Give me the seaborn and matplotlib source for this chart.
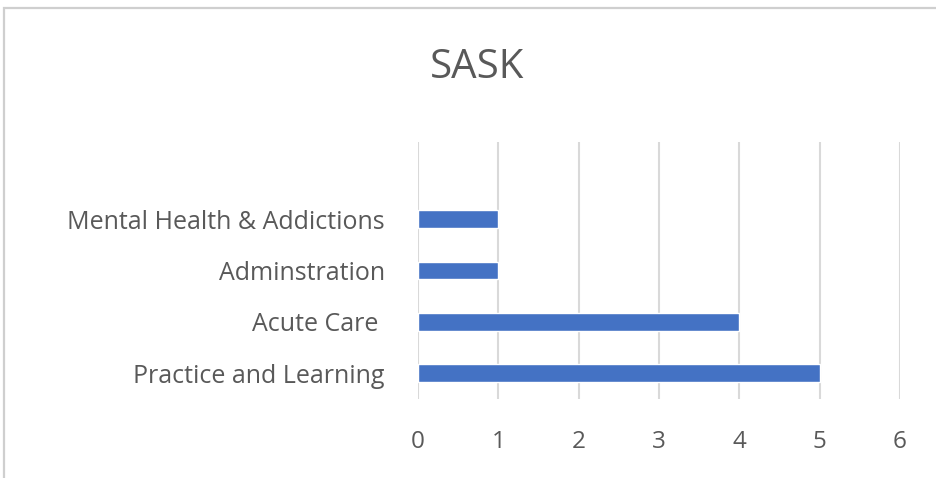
import matplotlib
matplotlib.use("Agg")
import matplotlib.pyplot as plt
import seaborn as sns
import pandas as pd
from matplotlib.patches import Rectangle

categories = ["Mental Health & Addictions", "Adminstration", "Acute Care ", "Practice and Learning"]
values = [1, 1, 4, 5]
x_ticks = [0, 1, 2, 3, 4, 5, 6]
title = "SASK"

sns.set_theme(style="white")
plt.rcParams["font.family"] = ["Open Sans", "DejaVu Sans"]

W, H = 936, 478
fig = plt.figure(figsize=(W / 100, H / 100), dpi=100)
fig.patch.set_facecolor("white")

# chart border
fig.add_artist(Rectangle((4 / W, -0.05), 1.2, 1 - 8 / H + 0.05, transform=fig.transFigure,
                         fill=False, edgecolor="#cfcfcf", linewidth=1.6))

ax = fig.add_axes([418 / W, 1 - 399 / H, 482 / W, 257 / H])
df = pd.DataFrame({"cat": categories, "val": values})
sns.barplot(data=df, x="val", y="cat", orient="h", color="#4472C4", width=0.35,
            saturation=1, ax=ax, zorder=3)

ax.set_xlim(0, 6)
ax.set_ylim(3.5, -1.5)
ax.set_xticks(x_ticks)
ax.set_xticklabels([str(t) for t in x_ticks])
ax.xaxis.grid(True, color="#d9d9d9", linewidth=1.5, zorder=0)
ax.yaxis.grid(False)
for s in ax.spines.values():
    s.set_visible(False)
ax.set_xlabel("")
ax.set_ylabel("")
ax.tick_params(axis="x", length=0, pad=22, labelsize=17.5, labelcolor="#595959")
ax.tick_params(axis="y", length=0, pad=24, labelsize=18, labelcolor="#595959")

fig.text(477 / W, 1 - 68 / H, title, ha="center", va="center", fontsize=29, color="#595959")

fig.savefig("out.png", dpi=100, facecolor="white")
